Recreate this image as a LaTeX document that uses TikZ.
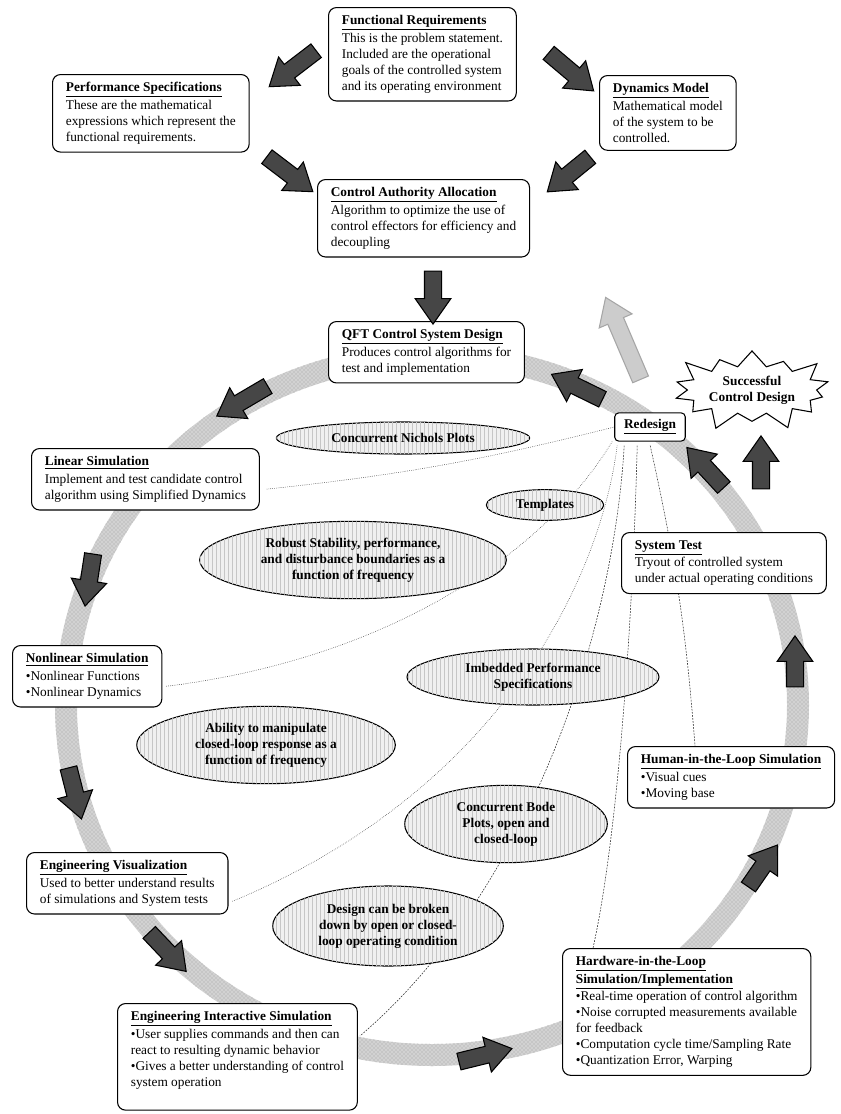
\documentclass[tikz,border=0pt]{standalone}
\usepackage{fontspec}
\setmainfont{Liberation Serif}
\usetikzlibrary{calc,shapes.geometric,shapes.arrows,shapes.symbols,patterns,backgrounds}

\tikzset{
  box/.style={draw, thick, rounded corners=6pt, fill=white, align=left, anchor=north west,
    inner xsep=10pt, inner ysep=6pt, font=\fontsize{10}{12}\selectfont},
  oval/.style={ellipse, draw, thick, fill=gray!12, postaction={pattern=vertical lines, pattern color=gray!45},
    align=center, inner sep=0pt, font=\fontsize{10}{12}\selectfont\bfseries},
  bigarrow/.style={single arrow, draw=black, thick, fill=gray!55!black, inner xsep=0pt, inner ysep=6pt,
    single arrow head extend=7pt, single arrow tip angle=70},
  ghostarrow/.style={bigarrow, draw=gray!70, fill=gray!40},
  burst/.style={starburst, draw, thick, fill=white, align=center, starburst points=14,
    starburst point height=16pt, inner sep=2pt, minimum width=96pt, font=\fontsize{10}{12}\selectfont\bfseries},
  link/.style={densely dotted, gray!30!black, thin},
  dlink/.style={dash pattern=on 1.3pt off 1pt, gray!30!black, thin}
}
\newcommand{\hd}[1]{\underline{\textbf{#1}}}
\newcommand{\blockarrow}[3][]{%
  \path let \p1=($(#3)-(#2)$), \n1={veclen(\x1,\y1)}, \n2={atan2(\y1,\x1)} in
    node[bigarrow,#1,minimum height=\n1,rotate=\n2] at ($(#2)!0.5!(#3)$) {};}

\begin{document}
\begin{tikzpicture}[x=0.75pt,y=-0.75pt]
  \useasboundingbox (0,0) rectangle (840,1114);

  % upper part
  \node[box] (fr) at (328,7) {\hd{Functional Requirements}\\[1pt] This is the problem statement.\\
    Included are the operational\\ goals of the controlled system\\ and its operating environment};
  \node[box] (ps) at (52,74) {\hd{Performance Specifications}\\[1pt] These are the mathematical\\
    expressions which represent the\\ functional requirements.};
  \node[box] (dm) at (599,75) {\hd{Dynamics Model}\\[1pt] Mathematical model\\ of the system to be\\ controlled.};
  \node[box] (caa) at (317,179) {\hd{Control Authority Allocation}\\[1pt] Algorithm to optimize the use of\\
    control effectors for efficiency and\\ decoupling};

  % the design loop
  \node[box] (qft) at (328,321) {\hd{QFT Control System Design}\\[1pt] Produces control algorithms for\\ test and implementation};
  \node[box] (linsim) at (31,448) {\hd{Linear Simulation}\\[1pt] Implement and test candidate control\\ algorithm using Simplified Dynamics};
  \node[box] (nonlin) at (12,645) {\hd{Nonlinear Simulation}\\[1pt] \textbullet Nonlinear Functions\\ \textbullet Nonlinear Dynamics};
  \node[box] (engvis) at (26,852) {\hd{Engineering Visualization}\\[1pt] Used to better understand results\\ of simulations and System tests};
  \node[box] (eis) at (117,1003) {\hd{Engineering Interactive Simulation}\\[1pt] \textbullet User supplies commands and then can\\
    react to resulting dynamic behavior\\ \textbullet Gives a better understanding of control\\ system operation\\ \mbox{}};
  \node[box] (hw) at (562,948) {\hd{Hardware-in-the-Loop}\\[1pt] \hd{Simulation/Implementation}\\[1pt]
    \textbullet Real-time operation of control algorithm\\ \textbullet Noise corrupted measurements available\\
    for feedback\\ \textbullet Computation cycle time/Sampling Rate\\ \textbullet Quantization Error, Warping};
  \node[box] (hil) at (627,746) {\hd{Human-in-the-Loop Simulation}\\[1pt] \textbullet Visual cues\\ \textbullet Moving base};
  \node[box] (systest) at (621,532) {\hd{System Test}\\[1pt] Tryout of controlled system\\ under actual operating conditions};
  \node[box, anchor=center, rounded corners=3pt, inner xsep=7pt, inner ysep=5pt] (redesign) at (650,427) {\hd{Redesign}};
  \node[burst] (success) at (752,390) {Successful\\ Control Design};

  % QFT features
  \node[oval, minimum width=190pt, minimum height=24pt] (nichols) at (403,438) {Concurrent Nichols Plots};
  \node[oval, minimum width=88pt, minimum height=23pt] (templates) at (545,505) {Templates};
  \node[oval, minimum width=230pt, minimum height=58pt] (robust) at (353,560) {Robust Stability, performance,\\ and disturbance boundaries as a\\ function of frequency};
  \node[oval, minimum width=189pt, minimum height=42pt] (imbedded) at (533,677) {Imbedded Performance\\ Specifications};
  \node[oval, minimum width=194pt, minimum height=58pt] (ability) at (266,745) {Ability to manipulate\\ closed-loop response as a\\ function of frequency};
  \node[oval, minimum width=152pt, minimum height=58pt] (bode) at (506,824) {Concurrent Bode\\ Plots, open and\\ closed-loop};
  \node[oval, minimum width=173pt, minimum height=60pt] (design) at (388,926) {Design can be broken\\ down by open or closed-\\ loop operating condition};

  \begin{pgfonlayer}{background}
    \fill[white] (0,0) rectangle (840,1114);
    % loop band
    \fill[gray!35, even odd rule, postaction={pattern=crosshatch dots, pattern color=gray!75}]
      (432,705) ellipse [x radius=377, y radius=361] (432,705) ellipse [x radius=355, y radius=339];
    % redesign links
    \draw[link] (redesign.west) to[bend left=4] ($(linsim.east)+(6,10)$);
    \draw[link] ($(redesign.south west)+(-2,0)$) .. controls (540,560) and (380,660) .. ($(nonlin.east)+(4,10)$);
    \draw[link] ($(redesign.south west)+(3,4)$) .. controls (600,580) and (500,790) .. ($(engvis.east)+(4,18)$);
    \draw[dlink] ($(redesign.south west)+(10,4)$) .. controls (612,650) and (520,900) .. ($(eis.north east)+(2,33)$);
    \draw[dlink] ($(redesign.south west)+(23,4)$) .. controls (632,650) and (615,850) .. ($(hw.north west)+(31,0)$);
    \draw[dlink] ($(redesign.south west)+(36,4)$) to[bend left=4] ($(hil.north west)+(68,0)$);
  \end{pgfonlayer}

  % block arrows
  \coordinate (a1) at (321,47);   \coordinate (b1) at (274,83);
  \coordinate (a2) at (544,49);   \coordinate (b2) at (589,87);
  \coordinate (a3) at (262,153);  \coordinate (b3) at (308,188);
  \coordinate (a4) at (595,153);  \coordinate (b4) at (552,188);
  \coordinate (a5) at (433,265);  \coordinate (b5) at (433,318);
  \coordinate (a6) at (273,383);  \coordinate (b6) at (222,413);
  \coordinate (a7) at (94,548);   \coordinate (b7) at (86,600);
  \coordinate (a8) at (67,762);   \coordinate (b8) at (80,813);
  \coordinate (a9) at (145,928);  \coordinate (b9) at (182,967);
  \coordinate (a10) at (453,1063); \coordinate (b10) at (506,1050);
  \coordinate (a11) at (745,892); \coordinate (b11) at (774,850);
  \coordinate (a12) at (795,693); \coordinate (b12) at (795,642);
  \coordinate (a13) at (728,492); \coordinate (b13) at (691,452);
  \coordinate (a14) at (608,402); \coordinate (b14) at (557,377);
  \coordinate (a15) at (761,495); \coordinate (b15) at (761,442);
  \coordinate (a16) at (643,385); \coordinate (b16) at (608,303);
  \foreach \i in {1,...,15}{\blockarrow{a\i}{b\i}}
  \blockarrow[ghostarrow]{a16}{b16}
\end{tikzpicture}
\end{document}
